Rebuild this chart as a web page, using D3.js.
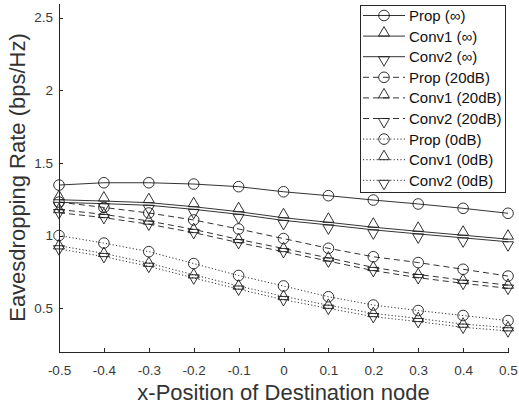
<!DOCTYPE html>
<html>
<head>
<meta charset="utf-8">
<script src="https://cdn.jsdelivr.net/npm/d3@7"></script>
<style>
  html, body { margin: 0; padding: 0; background: #fff; }
  svg { display: block; font-family: "Liberation Sans", Arial, Helvetica, sans-serif; }
</style>
</head>
<body>
<svg id="chart" width="519" height="408"></svg>
<script>
// x-position of the destination node
const xPositions = [-0.5, -0.4, -0.3, -0.2, -0.1, 0, 0.1, 0.2, 0.3, 0.4, 0.5];

// eavesdropping rate (bps/Hz), perfect CSI
const propInf  = [1.348, 1.364, 1.364, 1.355, 1.337, 1.302, 1.275, 1.245, 1.218, 1.188, 1.154];
const conv1Inf = [1.247, 1.238, 1.227, 1.199, 1.165, 1.123, 1.092, 1.058, 1.030, 1.003, 0.976];
const conv2Inf = [1.229, 1.220, 1.209, 1.181, 1.147, 1.105, 1.074, 1.040, 1.012, 0.985, 0.958];

// 20 dB
const prop20  = [1.231, 1.194, 1.156, 1.108, 1.046, 0.980, 0.913, 0.855, 0.815, 0.769, 0.722];
const conv120 = [1.158, 1.124, 1.079, 1.021, 0.952, 0.890, 0.825, 0.760, 0.711, 0.672, 0.638];
const conv220 = [1.180, 1.146, 1.101, 1.043, 0.974, 0.912, 0.847, 0.782, 0.733, 0.694, 0.660];

// 0 dB
const prop0  = [1.001, 0.949, 0.890, 0.808, 0.726, 0.654, 0.580, 0.523, 0.485, 0.451, 0.416];
const conv10 = [0.909, 0.856, 0.789, 0.709, 0.632, 0.560, 0.500, 0.443, 0.409, 0.370, 0.345];
const conv20 = [0.931, 0.878, 0.811, 0.731, 0.654, 0.582, 0.522, 0.465, 0.431, 0.392, 0.367];

const seriesNames = ["Prop (∞)", "Conv1 (∞)", "Conv2 (∞)",
                     "Prop (20dB)", "Conv1 (20dB)", "Conv2 (20dB)",
                     "Prop (0dB)", "Conv1 (0dB)", "Conv2 (0dB)"];

const xTicks = [-0.5, -0.4, -0.3, -0.2, -0.1, 0, 0.1, 0.2, 0.3, 0.4, 0.5];
const yTicks = [0.5, 1, 1.5, 2, 2.5];

const xTitle = "x-Position of Destination node";
const yTitle = "Eavesdropping Rate (bps/Hz)";

// ---- styling ----
const ink = "#262626";
const lineInk = "#1c1c1c";
const dashStyles = { solid: null, dashed: "6,4", dotted: "1.2,2.2" };
const markerR = 5.3;     // circle radius
const triW = 11, triH = 9.5;

const series = [
  { name: seriesNames[0], values: propInf,  marker: "circle", style: "solid" },
  { name: seriesNames[1], values: conv1Inf, marker: "up",     style: "solid" },
  { name: seriesNames[2], values: conv2Inf, marker: "down",   style: "solid" },
  { name: seriesNames[3], values: prop20,   marker: "circle", style: "dashed" },
  { name: seriesNames[4], values: conv120,  marker: "up",     style: "dashed" },
  { name: seriesNames[5], values: conv220,  marker: "down",   style: "dashed" },
  { name: seriesNames[6], values: prop0,    marker: "circle", style: "dotted" },
  { name: seriesNames[7], values: conv10,   marker: "up",     style: "dotted" },
  { name: seriesNames[8], values: conv20,   marker: "down",   style: "dotted" }
];

const svg = d3.select("#chart");

const x = d3.scaleLinear().domain([-0.5, 0.5]).range([59, 508]);
const y = d3.scaleLinear().domain([0.2, 2.6]).range([352, 3]);

function markerPath(kind, cx, cy) {
  if (kind === "circle") {
    const p = d3.path();
    p.moveTo(cx + markerR, cy);
    p.arc(cx, cy, markerR, 0, 2 * Math.PI);
    return p.toString();
  }
  const s = kind === "up" ? -1 : 1;
  return `M${cx - triW / 2},${cy}L${cx + triW / 2},${cy}L${cx},${cy + s * triH}Z`;
}

// ---- series ----
const plot = svg.append("g");
const line = d3.line().x((d, i) => x(xPositions[i])).y(d => y(d));

series.forEach(s => {
  const g = plot.append("g");
  g.append("path")
    .attr("d", line(s.values))
    .attr("fill", "none")
    .attr("stroke", lineInk)
    .attr("stroke-width", 0.9)
    .attr("stroke-dasharray", dashStyles[s.style]);
  g.selectAll("path.mk")
    .data(s.values)
    .join("path")
    .attr("class", "mk")
    .attr("d", (d, i) => markerPath(s.marker, x(xPositions[i]), y(d)))
    .attr("fill", "none")
    .attr("stroke", lineInk)
    .attr("stroke-width", 0.9);
});

// ---- axes ----
const fmtX = d => String(+d.toFixed(1));
const xAxis = d3.axisBottom(x).tickValues(xTicks).tickFormat(fmtX)
  .tickSizeInner(-4).tickSizeOuter(0).tickPadding(13);
const yAxis = d3.axisLeft(y).tickValues(yTicks).tickFormat(d => String(d))
  .tickSizeInner(-4).tickSizeOuter(0).tickPadding(6);

const gx = svg.append("g").attr("transform", "translate(0,352)").call(xAxis);
const gy = svg.append("g").attr("transform", "translate(59,0)").call(yAxis);

[gx, gy].forEach(g => {
  g.select(".domain").attr("stroke", ink).attr("stroke-width", 1).attr("shape-rendering", "crispEdges");
  g.selectAll(".tick line").attr("stroke", ink).attr("shape-rendering", "crispEdges");
  g.selectAll(".tick text")
    .attr("fill", "#3a3a3a")
    .style("font-size", "13.5px")
    .style("font-family", "'Liberation Sans', Arial, sans-serif");
});

// ---- axis titles ----
svg.append("text")
  .attr("x", 283.5).attr("y", 400)
  .attr("text-anchor", "middle")
  .attr("fill", "#333")
  .style("font-size", "22px")
  .text(xTitle);

svg.append("text")
  .attr("transform", "translate(25,177.5) rotate(-90)")
  .attr("text-anchor", "middle")
  .attr("fill", "#333")
  .style("font-size", "22px")
  .text(yTitle);

// ---- legend ----
const legend = svg.append("g");
legend.append("rect")
  .attr("x", 360.5).attr("y", 5.5)
  .attr("width", 145).attr("height", 187)
  .attr("fill", "#fff")
  .attr("stroke", ink)
  .attr("stroke-width", 1);

const rowY = i => 15.5 + i * 20.6;
series.forEach((s, i) => {
  const cy = rowY(i);
  legend.append("line")
    .attr("x1", 363).attr("x2", 405)
    .attr("y1", cy).attr("y2", cy)
    .attr("stroke", lineInk)
    .attr("stroke-width", 0.9)
    .attr("stroke-dasharray", dashStyles[s.style]);
  legend.append("path")
    .attr("d", markerPath(s.marker, 384, cy))
    .attr("fill", "none")
    .attr("stroke", lineInk)
    .attr("stroke-width", 0.9);
  legend.append("text")
    .attr("x", 409).attr("y", cy)
    .attr("dy", "0.36em")
    .attr("fill", "#111")
    .style("font-size", "15px")
    .text(s.name);
});
</script>
</body>
</html>
